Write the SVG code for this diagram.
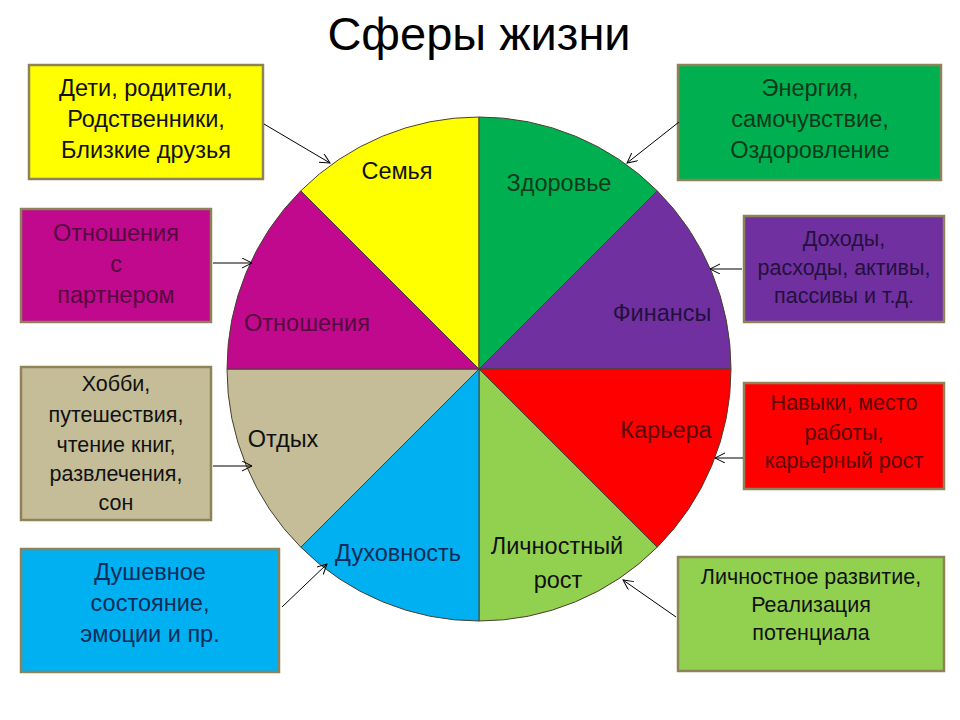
<svg xmlns="http://www.w3.org/2000/svg" width="960" height="720" viewBox="0 0 960 720">
<defs>
<style>
text{font-family:"Liberation Sans","Open Sans",Arial,sans-serif;text-anchor:middle}
.title{font-size:47px;fill:#000}
.seg{font-size:23.5px}
.box rect{stroke:#8E8358;stroke-width:2.5}
.bt{font-size:23.5px}
.bs{font-size:21.5px}
.sector{stroke:#4a4030;stroke-width:1}
.conn line{stroke:#000;stroke-width:1;marker-end:url(#arr)}
</style>
<marker id="arr" markerUnits="userSpaceOnUse" markerWidth="12" markerHeight="12" refX="10" refY="5" orient="auto">
<path d="M0,0 L10,5 L0,10" fill="none" stroke="#000" stroke-width="1"/>
</marker>
</defs>
<rect width="960" height="720" fill="#fff"/>
<text class="title" x="479" y="50">Сферы жизни</text>

<g id="wheel">
<g id="seg-family"><path class="sector" d="M479,369 L300.8,190.8 A252,252 0 0 1 479,117 Z" fill="#FFFF00"/><text class="seg" x="397" y="179" fill="#111">Семья</text></g>
<g id="seg-health"><path class="sector" d="M479,369 L479,117 A252,252 0 0 1 657.2,190.8 Z" fill="#00B050"/><text class="seg" x="559" y="191" fill="#0b3a1c">Здоровье</text></g>
<g id="seg-finance"><path class="sector" d="M479,369 L657.2,190.8 A252,252 0 0 1 731,369 Z" fill="#7030A0"/><text class="seg" x="662" y="321" fill="#24103e">Финансы</text></g>
<g id="seg-career"><path class="sector" d="M479,369 L731,369 A252,252 0 0 1 657.2,547.2 Z" fill="#FF0000"/><text class="seg" x="666" y="438" fill="#5a0808">Карьера</text></g>
<g id="seg-growth"><path class="sector" d="M479,369 L657.2,547.2 A252,252 0 0 1 479,621 Z" fill="#92D050"/><text class="seg" x="557" y="554" fill="#111">Личностный</text><text class="seg" x="558" y="588" fill="#111">рост</text></g>
<g id="seg-spirit"><path class="sector" d="M479,369 L479,621 A252,252 0 0 1 300.8,547.2 Z" fill="#00B0F0"/><text class="seg" x="398" y="561" fill="#0c2c58">Духовность</text></g>
<g id="seg-rest"><path class="sector" d="M479,369 L300.8,547.2 A252,252 0 0 1 227,369 Z" fill="#C4BD97"/><text class="seg" x="283" y="447" fill="#111">Отдых</text></g>
<g id="seg-relations"><path class="sector" d="M479,369 L227,369 A252,252 0 0 1 300.8,190.8 Z" fill="#C0098C"/><text class="seg" x="307" y="331" fill="#55083f">Отношения</text></g>
</g>

<g id="box-family" class="box"><rect x="29" y="65" width="234" height="114" fill="#FFFF00"/>
<text class="bt" x="146" y="96" fill="#111">Дети, родители,</text><text class="bt" x="146" y="127" fill="#111">Родственники,</text><text class="bt" x="146" y="158" fill="#111">Близкие друзья</text></g>

<g id="box-relations" class="box"><rect x="21" y="209" width="190" height="113" fill="#C0098C"/>
<text class="bt" x="116" y="241" fill="#55083f">Отношения</text><text class="bt" x="116" y="272" fill="#55083f">с</text><text class="bt" x="116" y="303" fill="#55083f">партнером</text></g>

<g id="box-health" class="box"><rect x="678" y="65" width="263" height="115" fill="#00B050"/>
<text class="bt" x="810" y="96" fill="#0b3a1c">Энергия,</text><text class="bt" x="810" y="127" fill="#0b3a1c">самочувствие,</text><text class="bt" x="810" y="158" fill="#0b3a1c">Оздоровление</text></g>

<g id="box-finance" class="box"><rect x="744" y="216" width="200" height="106" fill="#7030A0"/>
<text class="bs" x="844" y="246" fill="#24103e">Доходы,</text><text class="bs" x="844" y="275" fill="#24103e">расходы, активы,</text><text class="bs" x="844" y="303" fill="#24103e">пассивы и т.д.</text></g>

<g id="box-rest" class="box"><rect x="21" y="367" width="190" height="153" fill="#C4BD97"/>
<text class="bs" x="116" y="391" fill="#111">Хобби,</text><text class="bs" x="116" y="422" fill="#111">путешествия,</text><text class="bs" x="116" y="452" fill="#111">чтение книг,</text><text class="bs" x="116" y="481" fill="#111">развлечения,</text><text class="bs" x="116" y="510" fill="#111">сон</text></g>

<g id="box-spirit" class="box"><rect x="21" y="549" width="258" height="123" fill="#00B0F0"/>
<text class="bt" x="150" y="580" fill="#0c2c58">Душевное</text><text class="bt" x="150" y="611" fill="#0c2c58">состояние,</text><text class="bt" x="150" y="642" fill="#0c2c58">эмоции и пр.</text></g>

<g id="box-career" class="box"><rect x="744" y="383" width="200" height="106" fill="#FF0000"/>
<text class="bs" x="844" y="410" fill="#5a0808">Навыки, место</text><text class="bs" x="844" y="440" fill="#5a0808">работы,</text><text class="bs" x="844" y="468" fill="#5a0808">карьерный рост</text></g>

<g id="box-growth" class="box"><rect x="678" y="557" width="266" height="114" fill="#92D050"/>
<text class="bs" x="811" y="584" fill="#111">Личностное развитие,</text><text class="bs" x="811" y="612" fill="#111">Реализация</text><text class="bs" x="811" y="640" fill="#111">потенциала</text></g>

<g id="connectors" class="conn">
<line x1="264" y1="124" x2="330" y2="163"/>
<line x1="213" y1="263" x2="252" y2="263"/>
<line x1="679" y1="122" x2="627" y2="163"/>
<line x1="742" y1="269" x2="710" y2="269"/>
<line x1="213" y1="466" x2="252" y2="466"/>
<line x1="282" y1="607" x2="327" y2="564"/>
<line x1="743" y1="458" x2="715" y2="458"/>
<line x1="676" y1="617" x2="623" y2="580"/>
</g>
</svg>
